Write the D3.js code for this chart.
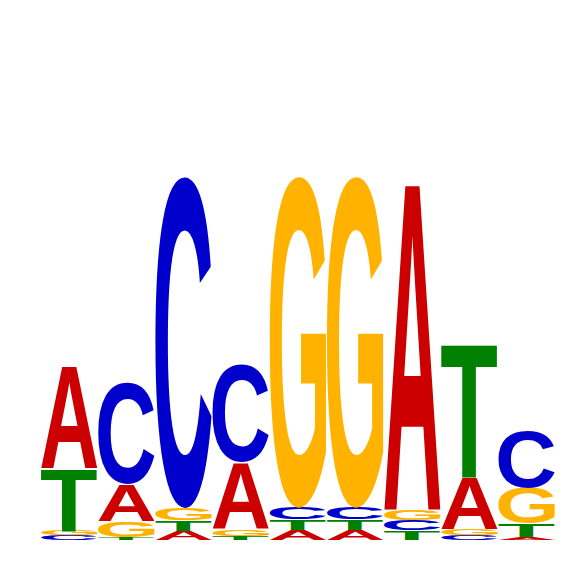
<!DOCTYPE html>
<html>
<head>
<meta charset="utf-8">
<script src="https://cdn.jsdelivr.net/npm/d3@7"></script>
<style>
	html, body { margin: 0; padding: 0; background: #fff; }
</style>
</head>
<body>
<div id="logo"></div>
<script>

// motif positions and the information (bits) each base carries at that position
const positions = [1, 2, 3, 4, 5, 6, 7, 8, 9];
const bitsA = [0.54, 0.19, 0.05, 0.35, 0.053, 0.053, 1.73, 0.27, 0.016];
const bitsC = [0.024, 0.537, 1.744, 0.51, 0.06, 0.06, 0.053, 0.028, 0.30];
const bitsG = [0.026, 0.084, 0.063, 0.037, 1.745, 1.745, 0.058, 0.032, 0.19];
const bitsT = [0.33, 0.016, 0.055, 0.021, 0.056, 0.056, 0.05, 0.707, 0.07];

const bases = ['A', 'C', 'G', 'T'];
const baseColor = { A: '#cc0000', C: '#0000cc', G: '#ffb300', T: '#008000' };

const width = 566, height = 566;
const fontFamily = "'Liberation Sans', Arial, sans-serif";

const svg = d3.select('#logo').append('svg')
	.attr('width', width)
	.attr('height', height);

const xScale = d3.scaleBand()
	.domain(positions)
	.range([41, 555])
	.paddingInner(0.01);

const yScale = d3.scaleLinear()
	.domain([0, 2])
	.range([540, 160]);

// ink bounds of each glyph, measured on a canvas so letters can be stretched to fill their box
const ctx = document.createElement('canvas').getContext('2d');
ctx.font = `bold 100px ${fontFamily}`;
const glyph = {};
bases.forEach(b => {
	const m = ctx.measureText(b);
	glyph[b] = {
		left: -m.actualBoundingBoxLeft,
		w: m.actualBoundingBoxLeft + m.actualBoundingBoxRight,
		asc: m.actualBoundingBoxAscent,
		h: m.actualBoundingBoxAscent + m.actualBoundingBoxDescent
	};
});

// build the stacks: smallest letter at the bottom
const stacks = [];
positions.forEach((p, i) => {
	const col = [
		{ base: 'A', bits: bitsA[i] },
		{ base: 'C', bits: bitsC[i] },
		{ base: 'G', bits: bitsG[i] },
		{ base: 'T', bits: bitsT[i] }
	].sort((a, b) => a.bits - b.bits);
	let y0 = 0;
	col.forEach(d => {
		stacks.push({ pos: p, base: d.base, y0: y0, y1: y0 + d.bits });
		y0 += d.bits;
	});
});

svg.append('g')
	.selectAll('text')
	.data(stacks)
	.join('text')
	.attr('font-family', fontFamily)
	.attr('font-weight', 'bold')
	.attr('font-size', 100)
	.attr('fill', d => baseColor[d.base])
	.attr('transform', d => {
		const g = glyph[d.base];
		const x = xScale(d.pos);
		const top = yScale(d.y1);
		const sx = xScale.bandwidth() / g.w;
		const sy = (yScale(d.y0) - yScale(d.y1)) / g.h;
		return `translate(${x},${top}) scale(${sx},${sy}) translate(${-g.left},${g.asc})`;
	})
	.text(d => d.base);

</script>
</body>
</html>
